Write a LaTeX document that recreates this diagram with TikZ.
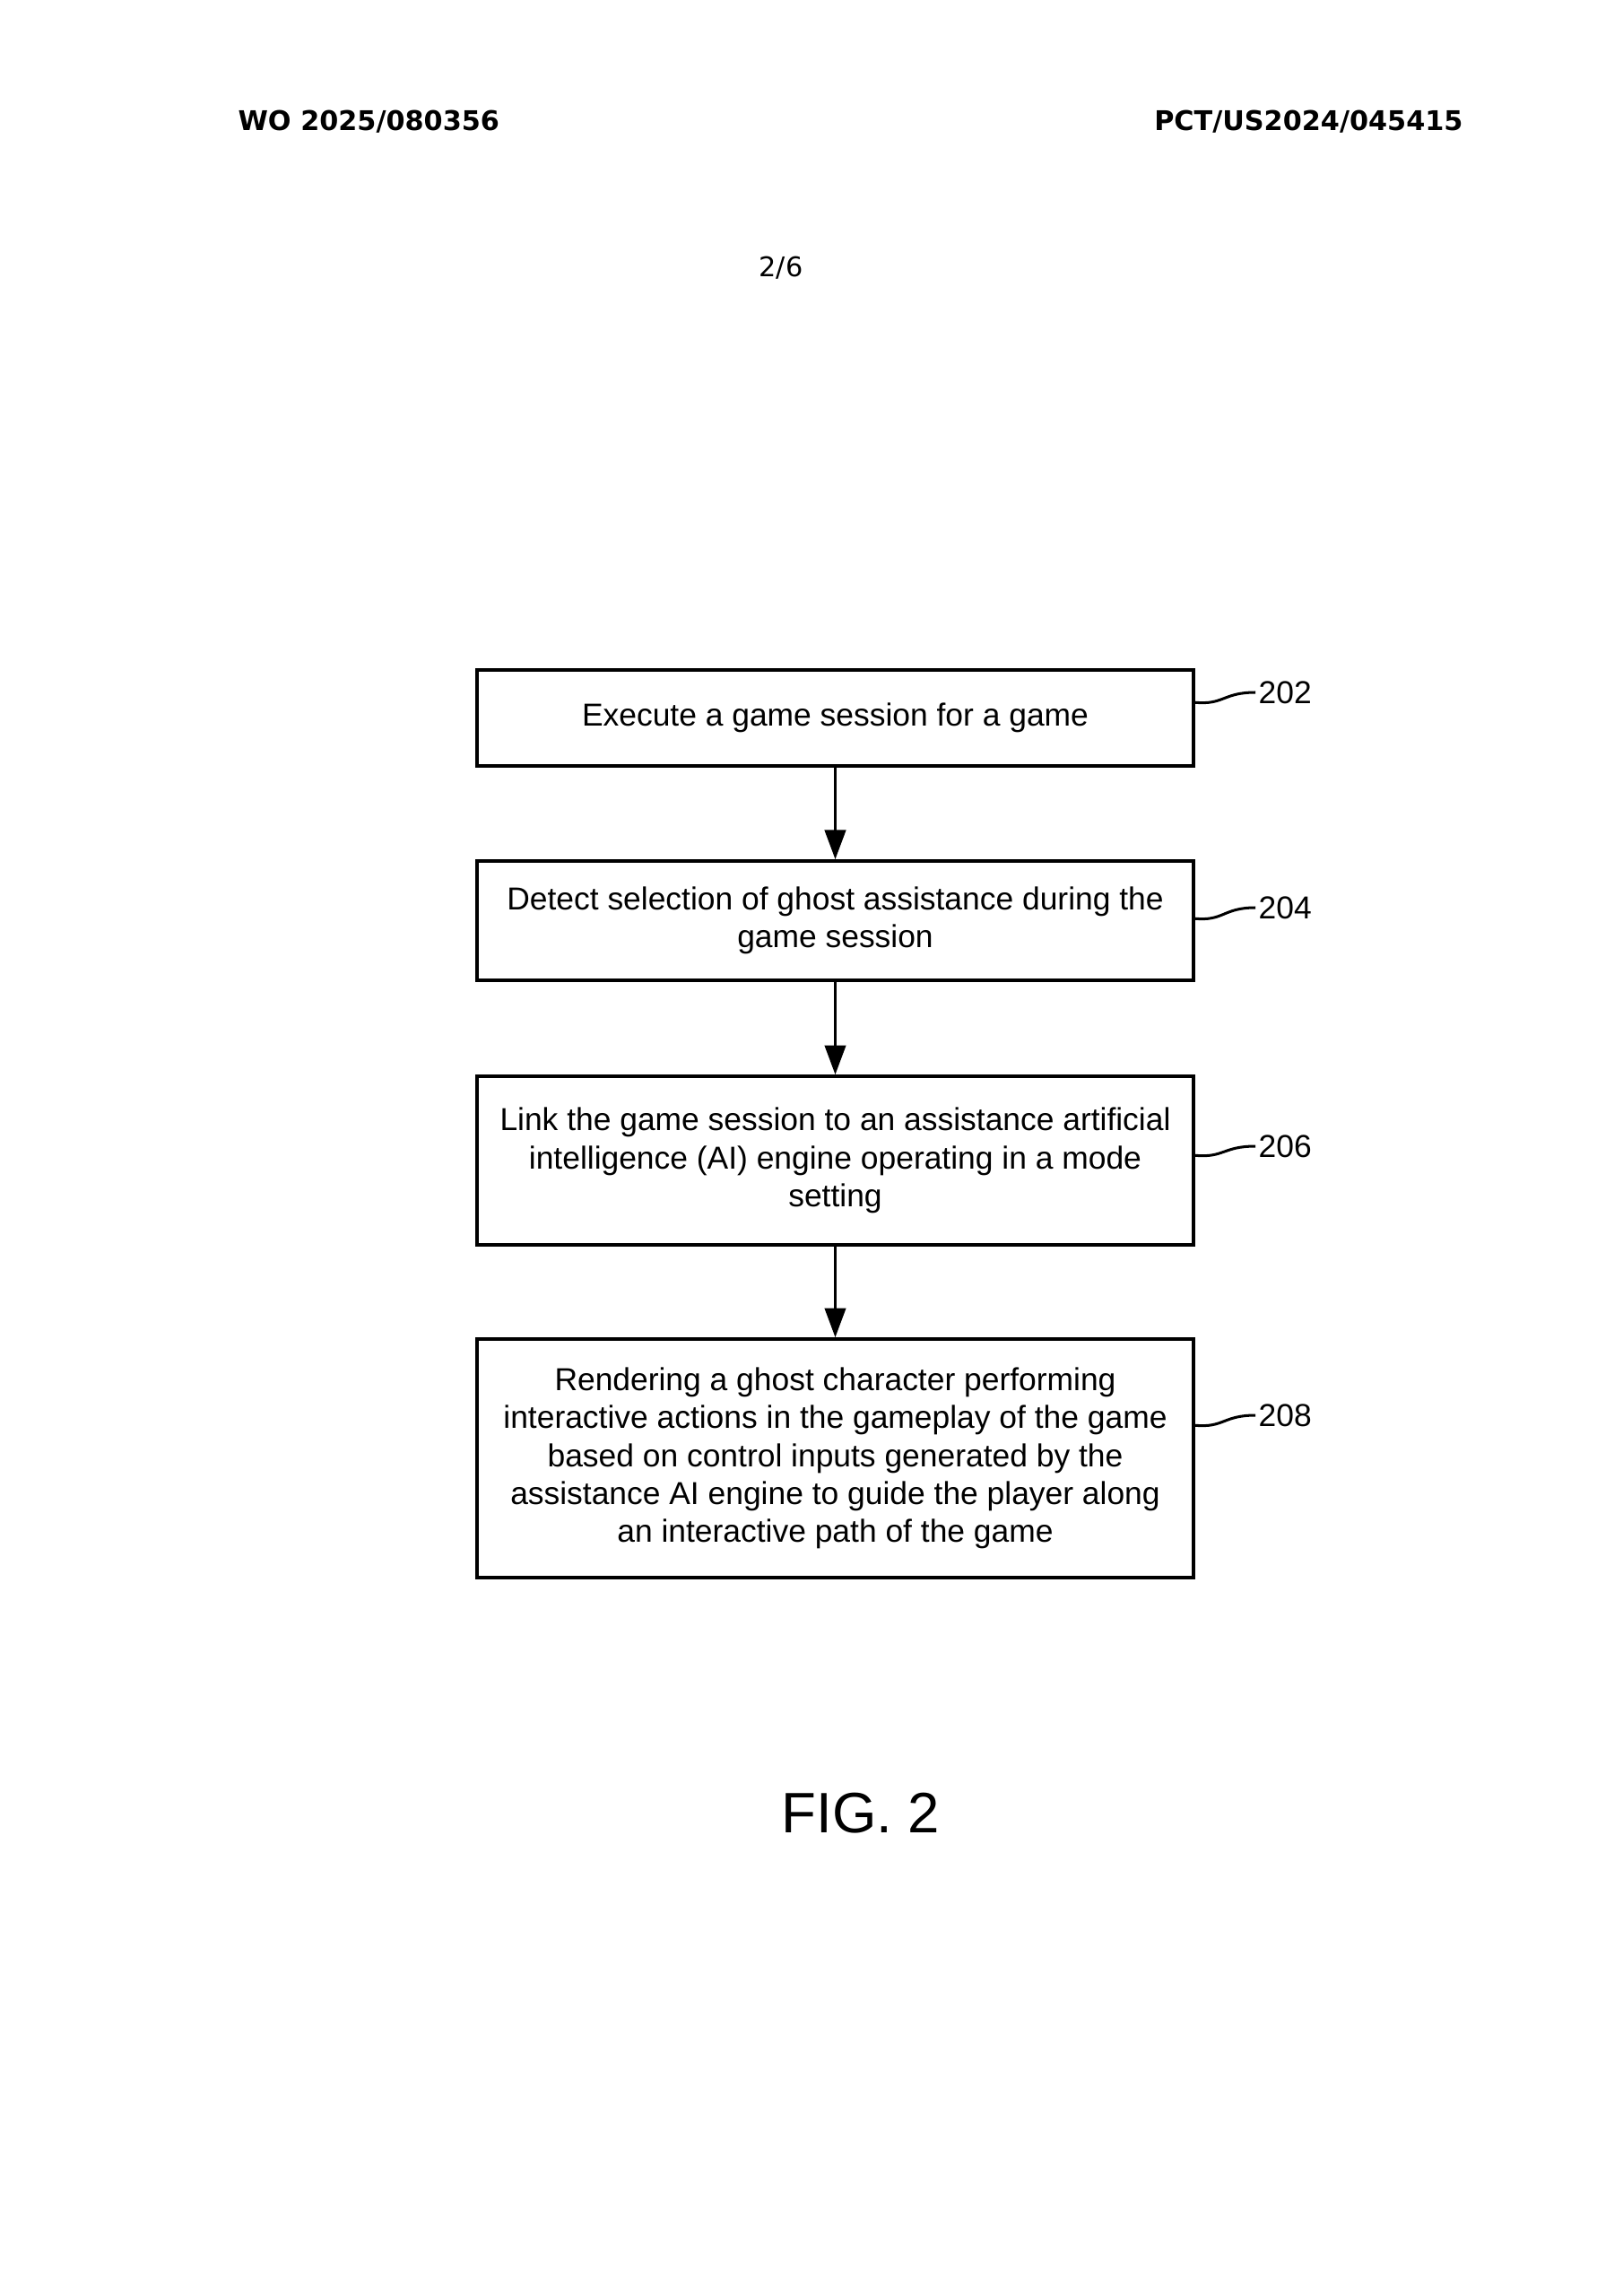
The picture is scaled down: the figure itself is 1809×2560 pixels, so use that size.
\documentclass[tikz,border=0pt]{standalone}
\usepackage{fontspec}
\setmainfont{Liberation Sans}
\newfontfamily\hdrfont{DejaVu Sans}
\usetikzlibrary{arrows.meta,calc}
\tikzset{
  stepbox/.style={draw, line width=1.2pt, minimum width=9.275cm, inner sep=0pt, align=center,
    font=\fontsize{11.7}{14}\selectfont},
  flowarrow/.style={line width=1.2pt, -{Triangle[length=0.38cm,width=0.27cm]}},
  reflabel/.style={anchor=west, inner sep=1pt, font=\fontsize{11.7}{14}\selectfont},
  refcurve/.style={line width=1pt},
  hdr/.style={inner sep=0pt, font=\hdrfont\bfseries\fontsize{10}{12}\selectfont},
}
\begin{document}
\begin{tikzpicture}[x=0.0116086cm, y=-0.0116086cm]
\useasboundingbox (0,0) rectangle (1809,2560);
% header
\node[hdr, anchor=west] (hl) at (265,136) {WO 2025/080356};
\node[hdr, anchor=east] (hr) at (1632,136) {PCT/US2024/045415};
\node[inner sep=0pt, font=\hdrfont\fontsize{10}{12}\selectfont] (pg) at (871,299) {2/6};
% boxes
\node[stepbox, minimum height=1.242cm] (b1) at (931.5,800.5) {Execute a game session for a game};
\node[stepbox, minimum height=1.544cm] (b2) at (931.5,1026.5) {Detect selection of ghost assistance during the\\game session};
\node[stepbox, minimum height=2.182cm] (b3) at (931.5,1294) {Link the game session to an assistance artificial\\intelligence (AI) engine operating in a mode\\setting};
\node[stepbox, minimum height=3.088cm] (b4) at (931.5,1626) {Rendering a ghost character performing\\interactive actions in the gameplay of the game\\based on control inputs generated by the\\assistance AI engine to guide the player along\\an interactive path of the game};
% arrows
\draw[flowarrow] (b1) -- (b2);
\draw[flowarrow] (b2) -- (b3);
\draw[flowarrow] (b3) -- (b4);
% reference labels
\node[reflabel] (l202) at (1400,772) {202};
\node[reflabel] (l204) at (1400,1012) {204};
\node[reflabel] (l206) at (1400,1278) {206};
\node[reflabel] (l208) at (1400,1578) {208};
\coordinate (s1) at ($(b1.north east)+(0,38)$);
\coordinate (s2) at ($(b2.north east)+(0,66)$);
\coordinate (s3) at ($(b3.north east)+(0,90)$);
\coordinate (s4) at ($(b4.north east)+(0,98)$);
\draw[refcurve] (s1) .. controls ($(s1)+(32,3)$) and ($(l202.west)+(-36,0)$) .. (l202.west);
\draw[refcurve] (s2) .. controls ($(s2)+(32,3)$) and ($(l204.west)+(-36,0)$) .. (l204.west);
\draw[refcurve] (s3) .. controls ($(s3)+(32,3)$) and ($(l206.west)+(-36,0)$) .. (l206.west);
\draw[refcurve] (s4) .. controls ($(s4)+(32,3)$) and ($(l208.west)+(-36,0)$) .. (l208.west);
% caption
\node[inner sep=0pt, font=\fontsize{21}{25}\selectfont] (fig) at (960,2022) {FIG. 2};
\end{tikzpicture}
\end{document}
